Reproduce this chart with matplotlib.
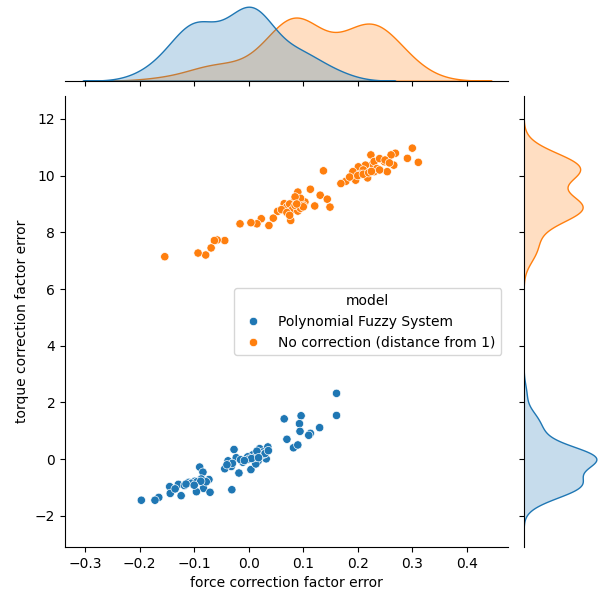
import matplotlib
matplotlib.use('Agg')
import matplotlib.pyplot as plt
import numpy as np
import pandas as pd
import seaborn as sns

## Polynomial Fuzzy System points
force_pfs = [0.161, 0.161, 0.065, 0.096, 0.093, 0.094, 0.130, 0.113, 0.110, 0.070,
             0.082, 0.090, 0.035, 0.020, 0.032, 0.007, 0.017, -0.004, -0.011, -0.027,
             -0.023, -0.038, -0.044, -0.032, -0.018, 0.004, -0.031, 0.026, 0.013, -0.090,
             -0.084, -0.073, -0.087, -0.099, -0.110, -0.129, -0.145, -0.118, -0.083, -0.096,
             -0.071, -0.144, -0.124, -0.165, -0.172, -0.197, 0.010, 0.022, 0.028, -0.002,
             0.015, -0.015, -0.030, 0.030, -0.105, -0.135, -0.078, 0.000, -0.040, 0.036,
             -0.105, -0.115, -0.095, -0.088, -0.100, 0.005, -0.008, 0.018]
torque_pfs = [2.32, 1.54, 1.42, 1.53, 1.25, 0.98, 1.11, 0.91, 0.84, 0.70,
              0.40, 0.50, 0.43, 0.37, 0.01, 0.15, -0.07, -0.01, -0.11, 0.34,
              0.05, -0.06, -0.34, -0.26, -0.49, -0.37, -1.08, 0.25, -0.17, -0.28,
              -0.46, -0.72, -0.70, -0.78, -0.82, -0.89, -0.97, -0.93, -1.03, -1.15,
              -1.17, -1.21, -1.29, -1.35, -1.45, -1.45, 0.05, 0.12, 0.18, 0.08,
              0.28, -0.02, -0.15, 0.20, -0.85, -1.05, -0.80, 0.00, -0.20, 0.30,
              -0.85, -0.88, -0.80, -0.78, -0.92, 0.02, -0.05, 0.05]

## No correction points
force_nc = [0.300, 0.311, 0.291, 0.269, 0.261, 0.266, 0.249, 0.254, 0.224, 0.227,
            0.214, 0.230, 0.218, 0.201, 0.191, 0.196, 0.178, 0.169, 0.137, 0.113,
            0.131, 0.144, 0.149, 0.121, 0.090, 0.103, 0.084, 0.065, 0.082, 0.053,
            0.068, 0.077, 0.045, 0.023, 0.037, 0.015, 0.004, -0.016, -0.044, -0.058,
            -0.063, -0.069, -0.079, -0.093, -0.154, 0.070, 0.075, 0.090, 0.060, 0.095,
            0.230, 0.240, 0.210, 0.235, 0.250, 0.205, 0.100, 0.085, 0.185, 0.258,
            0.080, 0.090, 0.085, 0.095, 0.070, 0.100, 0.075, 0.088,
            0.200, 0.210, 0.220, 0.225, 0.240]
torque_nc = [10.97, 10.47, 10.61, 10.79, 10.73, 10.37, 10.49, 10.14, 10.73, 10.40,
             10.37, 10.14, 9.92, 10.31, 10.14, 9.84, 9.80, 9.72, 10.17, 9.52,
             9.31, 9.17, 8.89, 8.93, 9.42, 9.07, 9.13, 9.01, 8.83, 8.74,
             8.74, 8.42, 8.50, 8.48, 8.24, 8.30, 8.34, 8.30, 7.71, 7.73,
             7.71, 7.45, 7.20, 7.27, 7.14, 8.90, 9.00, 8.85, 8.80, 9.20,
             10.50, 10.60, 10.20, 10.25, 10.55, 10.05, 8.95, 9.25, 9.95, 10.45,
             8.80, 8.75, 8.95, 8.85, 8.70, 8.90, 8.60, 9.00,
             10.00, 10.05, 10.10, 10.15, 10.20]

labels = ['Polynomial Fuzzy System', 'No correction (distance from 1)']

df = pd.DataFrame({
    'force correction factor error': force_pfs + force_nc,
    'torque correction factor error': torque_pfs + torque_nc,
    'model': [labels[0]] * len(force_pfs) + [labels[1]] * len(force_nc),
})

g = sns.jointplot(data=df, x='force correction factor error',
                  y='torque correction factor error', hue='model', height=6)
g.figure.set_size_inches(6.04, 5.97)
g.figure.subplots_adjust(left=65/604, right=600/604, bottom=1-547/597, top=1-3/597)

g.ax_joint.set_xlim(-0.337, 0.476)
g.ax_joint.set_ylim(-3.1, 12.8)
g.ax_joint.set_xticks([-0.3, -0.2, -0.1, 0.0, 0.1, 0.2, 0.3, 0.4])
sns.move_legend(g.ax_joint, 'center right')

plt.savefig('out.png', dpi=100)
